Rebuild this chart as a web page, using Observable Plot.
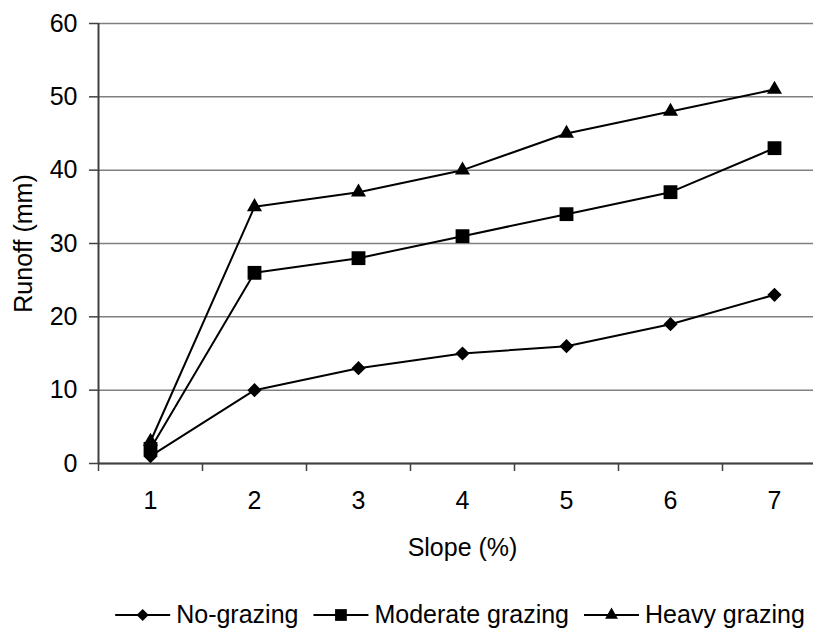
<!DOCTYPE html>
<html><head><meta charset="utf-8">
<script src="https://cdn.jsdelivr.net/npm/d3@7"></script>
<script src="https://cdn.jsdelivr.net/npm/@observablehq/plot@0.6"></script>
<style>html,body{margin:0;padding:0;background:#fff;overflow:hidden;} #chart svg,#legend svg{display:block}</style>
</head><body><div id="chart"></div><div id="legend"></div>
<script>
const slopes = [1, 2, 3, 4, 5, 6, 7];
const noGrazing = [1, 10, 13, 15, 16, 19, 23];
const moderateGrazing = [2, 26, 28, 31, 34, 37, 43];
const heavyGrazing = [3, 35, 37, 40, 45, 48, 51];
const seriesNames = ["No-grazing", "Moderate grazing", "Heavy grazing"];
const seriesSymbols = ["diamond2", "square", "triangle"];
const seriesR = [6.4, 7.8, 5.6];
const yTicks = [0, 10, 20, 30, 40, 50, 60];
const xTicks = slopes;
const xLabel = "Slope (%)";
const yLabel = "Runoff (mm)";

const seriesValues = [noGrazing, moderateGrazing, heavyGrazing];
const data = seriesNames.flatMap((name, i) => slopes.map((s, j) => ({series: name, slope: s, runoff: seriesValues[i][j]})));
const boundaries = [...slopes.map(s => s - 0.5), slopes[slopes.length - 1] + 0.5];
const font = "'Liberation Sans', Arial, sans-serif";
const fs = 25;

const dots = seriesNames.map((name, i) => Plot.dot(data.filter(d => d.series === name), {
  x: "slope", y: "runoff", symbol: () => seriesSymbols[i], r: seriesR[i], fill: "#000", stroke: "none"
}));

const chart = Plot.plot({
  width: 813, height: 563,
  marginLeft: 98, marginTop: 23, marginRight: -13, marginBottom: 100,
  style: {fontFamily: font, fontSize: fs + "px", color: "#000", background: "#fff"},
  x: {domain: [boundaries[0], boundaries[boundaries.length - 1]], label: null},
  y: {domain: [yTicks[0], yTicks[yTicks.length - 1]], label: null},
  symbol: {type: "identity"},
  marks: [
    Plot.gridY(yTicks, {stroke: "#808080", strokeOpacity: 1, strokeWidth: 1.5}),
    Plot.axisY(yTicks, {tickSize: 9, tickPadding: 12, stroke: "#404040", strokeWidth: 1.5, fill: "#000", fontSize: fs, label: null}),
    Plot.axisX(xTicks, {tickSize: 0, tickPadding: 28, fill: "#000", fontSize: fs, label: null, tickFormat: d => String(d)}),
    Plot.axisX(boundaries, {tickSize: 8, tickPadding: 0, stroke: "#404040", strokeWidth: 1.5, tickFormat: () => "", label: null}),
    Plot.ruleX([boundaries[0]], {stroke: "#404040", strokeWidth: 2}),
    Plot.ruleY([yTicks[0]], {stroke: "#404040", strokeWidth: 2}),
    Plot.lineY(data, {x: "slope", y: "runoff", z: "series", stroke: "#000", strokeWidth: 2}),
    ...dots,
    Plot.text([xLabel], {text: d => d, frameAnchor: "bottom", dy: 84, lineAnchor: "middle", textAnchor: "middle", fontSize: fs, fill: "#000"}),
    Plot.text([yLabel], {text: d => d, frameAnchor: "left", dx: -75, rotate: -90, lineAnchor: "middle", textAnchor: "middle", fontSize: fs, fill: "#000"})
  ]
});
document.getElementById("chart").appendChild(chart);

// Legend
const lsvg = d3.select("#legend").append("svg").attr("width", 813).attr("height", 65)
  .style("font-family", font).style("font-size", fs + "px");
const ly = 52;
const g = lsvg.append("g");
let cx = 0;
const symMap = {diamond2: d3.symbolDiamond2, square: d3.symbolSquare, triangle: d3.symbolTriangle};
seriesNames.forEach((name, i) => {
  const item = g.append("g").attr("transform", `translate(${cx},0)`);
  item.append("line").attr("x1", 0).attr("x2", 55).attr("y1", ly).attr("y2", ly).attr("stroke", "#000").attr("stroke-width", 2);
  const r = seriesR[i] * 0.85;
  item.append("path").attr("d", d3.symbol(symMap[seriesSymbols[i]], Math.PI * r * r)()).attr("transform", `translate(27.5,${ly})`).attr("fill", "#000");
  const t = item.append("text").attr("x", 61).attr("y", ly).attr("dy", "0.32em").attr("fill", "#000").text(name);
  const w = t.node().getComputedTextLength();
  cx += 61 + w + 15;
});
const total = cx - 15;
g.attr("transform", `translate(${(98 + 826) / 2 - total / 2 - 2},0)`);
</script>
</body></html>
